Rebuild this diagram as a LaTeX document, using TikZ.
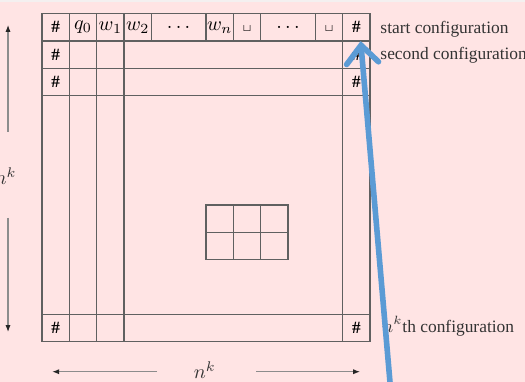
\documentclass[tikz,border=0pt]{standalone}
\usepackage{fontspec}
\setmainfont{Liberation Serif}
\usetikzlibrary{arrows.meta}
\definecolor{bgpink}{HTML}{FFE4E4}
\definecolor{topstrip}{HTML}{F4F0F0}
\definecolor{gridgray}{HTML}{606060}
\definecolor{inkgray}{HTML}{333333}
\definecolor{markblue}{HTML}{5B9BD5}
\begin{document}
\begin{tikzpicture}[x=13.665pt, y=-13.665pt,
  gridline/.style={draw=gridgray, line width=0.6pt},
  cell/.style={inner sep=0pt, text=black},
  hashcell/.style={inner sep=0pt, text=black, font=\fontsize{8.6}{10}\selectfont\bfseries},
  conflabel/.style={anchor=base west, inner sep=0pt, text=inkgray, font=\fontsize{8.7}{10}\selectfont},
  sizearrow/.style={draw=black!45, line width=0.6pt, -{Latex[length=3.5pt, width=2.6pt, black!85]}}]
% background
\fill[bgpink] (-1.537,-0.501) rectangle (17.673,13.476);
\fill[topstrip] (-1.537,-0.501) rectangle (17.673,-0.43);
\useasboundingbox (-1.537,-0.501) rectangle (17.673,13.476);
% the big table
\draw[gridline] (0,0) rectangle (12,12);
\foreach \k in {1,2,3,11} {
  \draw[gridline] (0,\k) -- (12,\k);
  \draw[gridline] (\k,0) -- (\k,12);
}
\foreach \k in {4,6,7,8,10}
  \draw[gridline] (\k,0) -- (\k,1);
% small window in the middle
\draw[gridline] (6,7) rectangle (9,9);
\draw[gridline] (6,8) -- (9,8);
\draw[gridline] (7,7) -- (7,9);
\draw[gridline] (8,7) -- (8,9);
% start row
\node[cell] (q0) at (1.5,0.5) {$q_0$};
\node[cell] (w1) at (2.5,0.5) {$w_1$};
\node[cell] (w2) at (3.5,0.5) {$w_2$};
\node[cell] (dotsa) at (5,0.5) {$\ldots$};
\node[cell] (wn) at (6.5,0.5) {$w_n$};
\node[cell] (blanka) at (7.5,0.55) {\tiny$\sqcup$};
\node[cell] (dotsb) at (9,0.5) {$\ldots$};
\node[cell] (blankb) at (10.5,0.55) {\tiny$\sqcup$};
% border symbols
\foreach \r in {0,1,2,11} {
  \node[hashcell] (hl-\r) at (0.5,\r+0.5) {\#};
  \node[hashcell] (hr-\r) at (11.5,\r+0.5) {\#};
}
% row labels
\node[conflabel] (startconf) at (12.37,0.71) {start configuration};
\node[conflabel] (secondconf) at (12.37,1.69) {second configuration};
\node[conflabel] (lastconf) at (12.43,11.67) {$n^k$th configuration};
% height
\node[cell, text=inkgray] (heightlbl) at (-1.33,5.95) {$n^k$};
\coordinate (uptail) at (-1.244,4.32);
\coordinate (uptip) at (-1.244,0.41);
\coordinate (downtail) at (-1.244,7.47);
\coordinate (downtip) at (-1.244,11.65);
\draw[sizearrow] (uptail) -- (uptip);
\draw[sizearrow] (downtail) -- (downtip);
% width
\node[cell, text=inkgray] (widthlbl) at (5.96,13.04) {$n^k$};
\coordinate (lefttail) at (4.21,13.1);
\coordinate (lefttip) at (0.37,13.1);
\coordinate (righttail) at (7.83,13.1);
\coordinate (righttip) at (11.64,13.1);
\draw[sizearrow] (lefttail) -- (lefttip);
\draw[sizearrow] (righttail) -- (righttip);
% pointer
\coordinate (ptail) at (12.76,13.8);
\coordinate (ptip) at (11.66,1.0);
\draw[markblue, line width=2.8pt, line cap=round,
  -{Straight Barb[length=9pt, width=16pt, line cap=round]}] (ptail) -- (ptip);
\end{tikzpicture}
\end{document}
